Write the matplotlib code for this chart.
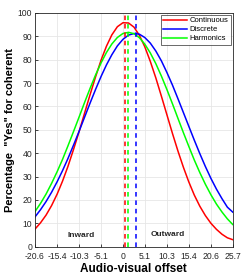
import matplotlib
matplotlib.use("Agg")
import matplotlib.pyplot as plt

plt.rcParams['font.family'] = ['Liberation Sans', 'DejaVu Sans']

x = [-20.6, -19.3, -18.0, -16.7, -15.4, -14.15, -12.9, -11.6, -10.3, -9.0,
     -7.7, -6.4, -5.1, -3.85, -2.6, -1.3, 0.0, 1.3, 2.6, 3.85,
     5.1, 6.4, 7.7, 9.0, 10.3, 11.6, 12.9, 14.15, 15.4, 16.7,
     18.0, 19.3, 20.6, 21.9, 23.2, 24.45, 25.7]
continuous = [7.5, 10.2, 13.5, 17.6, 22.5, 28.0, 34.2, 41.4, 49.0, 57.0,
              65.0, 72.7, 79.9, 85.8, 90.6, 94.1, 95.8, 95.7, 93.9, 90.4,
              85.6, 79.3, 72.2, 64.4, 56.4, 48.4, 40.8, 34.0, 27.8, 22.1,
              17.3, 13.3, 10.0, 7.4, 5.3, 3.8, 3.0]
discrete = [12.7, 15.8, 19.3, 23.3, 27.8, 32.5, 37.6, 43.3, 49.2, 55.3,
            61.4, 67.3, 72.9, 77.8, 82.1, 85.9, 88.7, 90.5, 91.2, 90.9,
            89.5, 87.1, 83.7, 79.5, 74.5, 69.1, 63.2, 57.4, 51.6, 45.6,
            39.8, 34.3, 29.2, 24.6, 20.5, 16.9, 14.8]
harmonics = [15.0, 18.5, 22.5, 27.1, 32.1, 37.3, 43.0, 49.1, 55.3, 61.6,
             67.7, 73.5, 78.7, 83.1, 86.7, 89.5, 91.2, 91.7, 91.1, 89.4,
             86.7, 82.9, 78.3, 73.0, 67.2, 61.1, 54.8, 48.8, 43.0, 37.1,
             31.7, 26.7, 22.2, 18.2, 14.8, 11.9, 9.5]
centers = {'Continuous': 0.5, 'Discrete': 3.0, 'Harmonics': 1.2}
xticks = [-20.6, -15.4, -10.3, -5.1, 0, 5.1, 10.3, 15.4, 20.6, 25.7]
xticklabels = ['-20.6', '-15.4', '-10.3', '-5.1', '0', '5.1', '10.3', '15.4', '20.6', '25.7']
yticks = list(range(0, 101, 10))

fig = plt.figure(figsize=(2.41, 2.75), dpi=100)
ax = fig.add_axes([0.145, 0.103, 0.8206, 0.85])

series = [('Continuous', continuous, '#ff0000'),
          ('Discrete', discrete, '#0000ff'),
          ('Harmonics', harmonics, '#00ff00')]
for name, ys, c in series:
    ax.plot(x, ys, color=c, lw=1.1, label=name)
for name, ys, c in series:
    ax.axvline(centers[name], color=c, lw=1.1, ls=(0, (3, 2.5)))

ax.set_xlim(-20.6, 25.7)
ax.set_ylim(0, 100)
ax.set_xticks(xticks)
ax.set_xticklabels(xticklabels)
ax.set_yticks(yticks)
ax.tick_params(direction='in', labelsize=6.2, length=2.5, width=0.6, pad=2, colors='#262626')
ax.tick_params(axis='x', pad=3.5)
ax.grid(True, color='#e6e6e6', lw=0.6)
ax.set_axisbelow(True)
for s in ax.spines.values():
    s.set_color('#262626')
    s.set_linewidth(0.6)

ax.set_xlabel('Audio-visual offset', fontsize=8.5, fontweight='bold', labelpad=1.5)
ax.set_ylabel('Percentage  "Yes" for coherent', fontsize=8, fontweight='bold', labelpad=2)

ax.text(-9.7, 4.8, 'Inward', fontsize=6, fontweight='bold', ha='center', va='center', color='#262626')
ax.text(10.6, 5.4, 'Outward', fontsize=6, fontweight='bold', ha='center', va='center', color='#262626')

leg = ax.legend(loc='upper right', fontsize=5.5, frameon=True, fancybox=False,
                borderpad=0.3, labelspacing=0.2, handlelength=3.2, handletextpad=0.3,
                borderaxespad=0.25, edgecolor='#262626')
leg.get_frame().set_linewidth(0.6)

fig.savefig('out.png', dpi=100)
